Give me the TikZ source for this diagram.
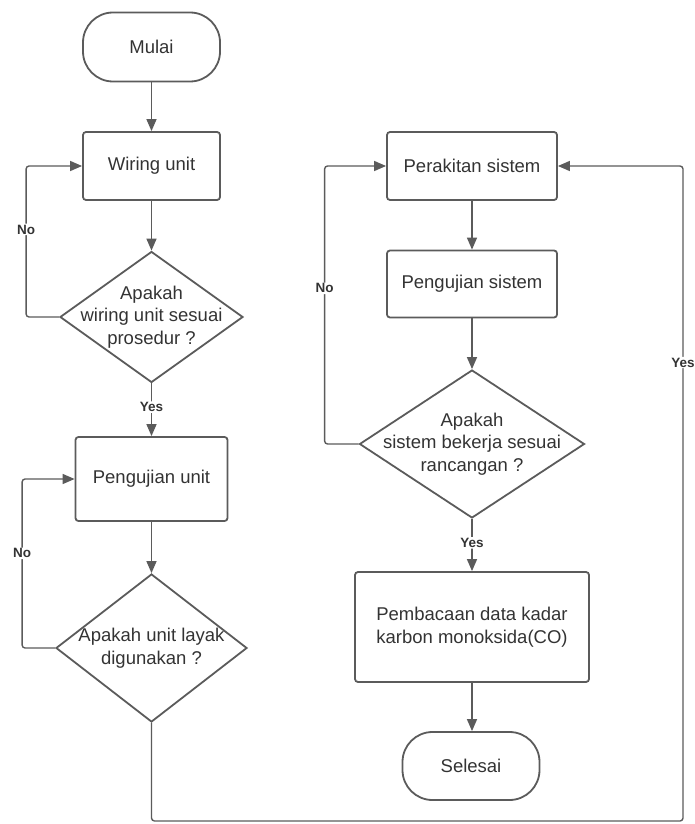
\documentclass[tikz,border=0pt]{standalone}
\usepackage{fontspec}
\setmainfont{Liberation Sans}
\usetikzlibrary{shapes.geometric,arrows.meta}

\definecolor{garis}{HTML}{5B5B5B}
\definecolor{teks}{HTML}{333333}

\begin{document}
\begin{tikzpicture}[x=1pt, y=-1pt,
  proses/.style={draw=garis, line width=1.8pt, rounded corners=3pt, text=teks,
    align=center, font=\fontsize{18.5}{22.5}\selectfont},
  terminal/.style={proses, rounded corners=30pt},
  keputusan/.style={diamond, draw=garis, line width=1.8pt, inner sep=0pt},
  tanya/.style={text=teks, align=center, font=\fontsize{18.5}{22.5}\selectfont},
  panah/.style={draw=garis, line width=1.4pt, rounded corners=3pt,
    -{Triangle[length=12pt,width=10pt]}},
  ket/.style={fill=white, text=teks, inner sep=1pt,
    font=\bfseries\fontsize{13.5}{16}\selectfont}]

  \useasboundingbox (0,0) rectangle (694,824);

  % kolom kiri
  \node[terminal, minimum width=137pt, minimum height=69pt] (mulai) at (151.5,47) {Mulai};
  \node[proses, minimum width=137pt, minimum height=68pt] (wiring) at (151.5,166) {Wiring unit};
  \node[keputusan, minimum width=183pt, minimum height=131pt,
    label={[tanya]center:Apakah\\wiring unit sesuai\\prosedur ?}] (cek1) at (151.5,317) {};
  \node[proses, minimum width=152pt, minimum height=84pt] (uji) at (151.5,479) {Pengujian unit};
  \node[keputusan, minimum width=191pt, minimum height=148pt,
    label={[tanya]center:Apakah unit layak\\digunakan ?}] (cek2) at (151.5,648) {};

  % kolom kanan
  \node[proses, minimum width=170pt, minimum height=68pt] (rakit) at (472,166) {Perakitan sistem};
  \node[proses, minimum width=170pt, minimum height=67pt] (ujisis) at (472,284) {Pengujian sistem};
  \node[keputusan, minimum width=225pt, minimum height=148pt,
    label={[tanya]center:Apakah\\sistem bekerja sesuai\\rancangan ?}] (cek3) at (472,444) {};
  \node[proses, minimum width=234pt, minimum height=110pt] (baca) at (472,627)
    {Pembacaan data kadar\\karbon monoksida(CO)};
  \node[terminal, minimum width=137pt, minimum height=68pt] (selesai) at (471,766) {Selesai};

  \coordinate (belok) at (683,821);

  \draw[panah] (mulai) -- (wiring);
  \draw[panah] (wiring) -- (cek1);
  \draw[panah] (cek1.west) -- ++(-33,0) |- node[ket, pos=0.29]{No} (wiring.west);
  \draw[panah] (cek1) -- node[ket, pos=0.45]{Yes} (uji);
  \draw[panah] (uji) -- (cek2);
  \draw[panah] (cek2.west) -- ++(-33,0) |- node[ket, pos=0.28]{No} (uji.west);
  \draw[panah] (cek2.south) |- (belok) |- node[ket, pos=0.35]{Yes} (rakit.east);

  \draw[panah] (rakit) -- (ujisis);
  \draw[panah] (ujisis) -- (cek3);
  \draw[panah] (cek3.west) -- ++(-34,0) |- node[ket, pos=0.28]{No} (rakit.west);
  \draw[panah] (cek3) -- node[ket, pos=0.46]{Yes} (baca);
  \draw[panah] (baca.south) -- (baca.south |- selesai.north);

\end{tikzpicture}
\end{document}
